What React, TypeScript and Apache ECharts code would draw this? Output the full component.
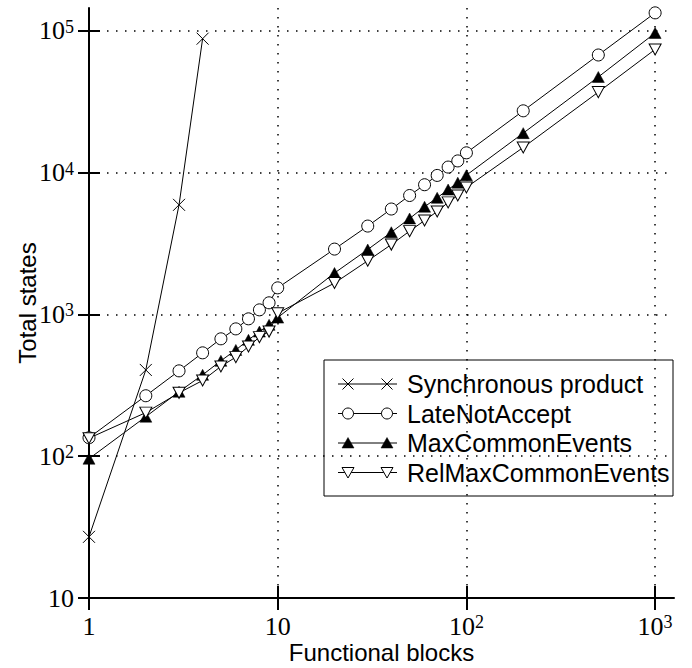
import React, { useEffect, useRef } from 'react';
import * as echarts from 'echarts';

// ---- data ----
const blocks = [1, 2, 3, 4, 5, 6, 7, 8, 9, 10, 20, 30, 40, 50, 60, 70, 80, 90, 100, 200, 500, 1000];
const syncBlocks = [1, 2, 3, 4];
const syncStates = [27, 406, 5930, 88100];
const lateNotAccept = [135, 267, 400, 536, 673, 791, 931, 1077, 1208, 1540, 2890, 4200, 5540, 6900, 8220, 9560, 10950, 12100, 13800, 27300, 67600, 134000];
const maxCommonEvents = [96, 190, 285, 375, 471, 562, 662, 757, 845, 950, 1960, 2870, 3800, 4750, 5750, 6650, 7600, 8500, 9600, 19000, 47300, 96600];
const relMaxCommonEvents = [134, 203, 280, 342, 430, 500, 594, 692, 757, 1020, 1665, 2390, 3110, 3870, 4600, 5320, 6170, 6900, 7870, 15060, 37000, 74000];
const xTickValues = [1, 10, 100, 1000];
const yTickValues = [10, 100, 1000, 10000, 100000];
const seriesNames = ['Synchronous product', 'LateNotAccept', 'MaxCommonEvents', 'RelMaxCommonEvents'];
const xTitle = 'Functional blocks';
const yTitle = 'Total states';

const SANS = 'Liberation Sans';
const SERIF = 'Liberation Serif';

const crossPath = 'path://M0,0L10,10M10,0L0,10';
const downTriPath = 'path://M0,0L12,0L6,10.4Z';

function powLabel(v: number): string {
  const l = Math.log10(v);
  const e = Math.round(l);
  if (Math.abs(l - e) > 1e-6) return '';
  if (e === 0) return '{b|1}';
  if (e === 1) return '{b|10}';
  return '{b|10}{s|' + e + '}';
}

const labelRich = {
  b: { fontFamily: SERIF, fontSize: 26, color: '#000', lineHeight: 26 },
  s: { fontFamily: SERIF, fontSize: 18, color: '#000', verticalAlign: 'top', lineHeight: 16 },
};

export default function App() {
  const ref = useRef<HTMLDivElement>(null);
  useEffect(() => {
    if (!ref.current) return;
    document.body.style.margin = '0';
    const chart = echarts.init(ref.current, null, { renderer: 'svg' });

    const axisBase = (min: number, max: number) => ({
      type: 'log' as const,
      logBase: 10,
      min,
      max,
    });

    const gridDots = { color: '#000', width: 1.5, type: [1.5, 7.5] };

    const xMain = {
      ...axisBase(1, 1259),
      position: 'bottom',
      name: xTitle,
      nameLocation: 'middle',
      nameGap: 42,
      nameMoveOverlap: false,
      nameTextStyle: { fontFamily: SANS, fontSize: 24, lineHeight: 24, color: '#000' },
      axisLine: { show: true, lineStyle: { color: '#000', width: 2 } },
      axisTick: { show: true, inside: false, length: 12, lineStyle: { color: '#000', width: 2 }, customValues: xTickValues },
      axisLabel: { show: true, margin: 15, formatter: powLabel, rich: labelRich, customValues: xTickValues },
      splitLine: { show: true, showMinLine: false, showMaxLine: true, lineStyle: gridDots },
      minorTick: { show: false },
      minorSplitLine: { show: false },
    };
    const xInner = {
      ...axisBase(1, 1259),
      position: 'bottom',
      axisLine: { show: false },
      axisTick: { show: true, inside: true, length: 12, lineStyle: { color: '#000', width: 2 }, customValues: xTickValues },
      axisLabel: { show: false },
      splitLine: { show: false },
    };
    const yMain = {
      ...axisBase(10, 145000),
      position: 'left',
      name: yTitle,
      nameLocation: 'middle',
      nameGap: 50,
      nameMoveOverlap: false,
      nameRotate: 90,
      nameTextStyle: { fontFamily: SANS, fontSize: 24, lineHeight: 24, color: '#000' },
      axisLine: { show: true, lineStyle: { color: '#000', width: 2 } },
      axisTick: { show: true, inside: false, length: 11, lineStyle: { color: '#000', width: 2 }, customValues: yTickValues },
      axisLabel: { show: true, margin: 15, formatter: powLabel, rich: labelRich, customValues: yTickValues },
      splitLine: { show: true, showMinLine: false, showMaxLine: true, lineStyle: gridDots },
    };
    const yInner = {
      ...axisBase(10, 145000),
      position: 'left',
      axisLine: { show: false },
      axisTick: { show: true, inside: true, length: 11, lineStyle: { color: '#000', width: 2 }, customValues: yTickValues },
      axisLabel: { show: false },
      splitLine: { show: false },
    };

    const lineStyle = { color: '#000', width: 1 };
    const series: any[] = [
      {
        name: seriesNames[0],
        type: 'line',
        data: syncBlocks.map((b, i) => [b, syncStates[i]]),
        symbol: crossPath,
        symbolSize: 12,
        itemStyle: { color: 'none', borderColor: '#000', borderWidth: 1 },
        lineStyle,
      },
      {
        name: seriesNames[1],
        type: 'line',
        data: blocks.map((b, i) => [b, lateNotAccept[i]]),
        symbol: 'circle',
        symbolSize: 12,
        itemStyle: { color: '#fff', borderColor: '#000', borderWidth: 1 },
        lineStyle,
      },
      {
        name: seriesNames[2],
        type: 'line',
        data: blocks.map((b, i) => [b, maxCommonEvents[i]]),
        symbol: 'triangle',
        symbolSize: [12, 11],
        itemStyle: { color: '#000', borderColor: '#000', borderWidth: 0.5 },
        lineStyle,
      },
      {
        name: seriesNames[3],
        type: 'line',
        data: blocks.map((b, i) => [b, relMaxCommonEvents[i]]),
        symbol: downTriPath,
        symbolSize: [12, 11],
        itemStyle: { color: '#fff', borderColor: '#000', borderWidth: 1 },
        lineStyle,
      },
    ];
    series.forEach((s) => {
      s.showAllSymbol = true;
      s.xAxisIndex = 0;
      s.yAxisIndex = 0;
      s.emphasis = { disabled: true };
    });

    // legend drawn with graphic elements (line with two marks, like the reference)
    const lx = 324, ly = 360, lw = 349, lh = 136;
    const rowY = (i: number) => ly + 24 + i * 29.5;
    const m1 = 348, m2 = 387;
    const legendEls: any[] = [
      { type: 'rect', shape: { x: lx, y: ly, width: lw, height: lh }, style: { fill: '#fff', stroke: '#000', lineWidth: 1 } },
    ];
    const marker = (kind: number, cx: number, cy: number): any[] => {
      if (kind === 0) {
        return [
          { type: 'line', shape: { x1: cx - 5.5, y1: cy - 5.5, x2: cx + 5.5, y2: cy + 5.5 }, style: { stroke: '#000', lineWidth: 1 } },
          { type: 'line', shape: { x1: cx - 5.5, y1: cy + 5.5, x2: cx + 5.5, y2: cy - 5.5 }, style: { stroke: '#000', lineWidth: 1 } },
        ];
      }
      if (kind === 1) {
        return [{ type: 'circle', shape: { cx, cy, r: 5.5 }, style: { fill: '#fff', stroke: '#000', lineWidth: 1 } }];
      }
      if (kind === 2) {
        return [{ type: 'polygon', shape: { points: [[cx - 6, cy + 5], [cx + 6, cy + 5], [cx, cy - 5.5]] }, style: { fill: '#000', stroke: '#000', lineWidth: 0.5 } }];
      }
      return [{ type: 'polygon', shape: { points: [[cx - 6, cy - 5], [cx + 6, cy - 5], [cx, cy + 5.5]] }, style: { fill: '#fff', stroke: '#000', lineWidth: 1 } }];
    };
    seriesNames.forEach((name, i) => {
      const y = rowY(i);
      legendEls.push({ type: 'line', shape: { x1: 338, y1: y, x2: 397, y2: y }, style: { stroke: '#000', lineWidth: 1 } });
      legendEls.push(...marker(i, m1, y));
      legendEls.push(...marker(i, m2, y));
      legendEls.push({
        type: 'text',
        x: 407,
        y,
        style: { text: name, fill: '#000', fontFamily: SANS, fontSize: 25, align: 'left', verticalAlign: 'middle' },
      });
    });

    chart.setOption({
      animation: false,
      backgroundColor: '#fff',
      grid: { left: 89, right: 18, top: 8, bottom: 70, containLabel: false, outerBoundsMode: 'none' },
      xAxis: [xMain, xInner],
      yAxis: [yMain, yInner],
      series,
      graphic: [{ type: 'group', z: 100, children: legendEls }],
    } as any);

    return () => chart.dispose();
  }, []);

  return <div ref={ref} style={{ position: 'fixed', left: 0, top: 0, width: 692, height: 668 }} />;
}
